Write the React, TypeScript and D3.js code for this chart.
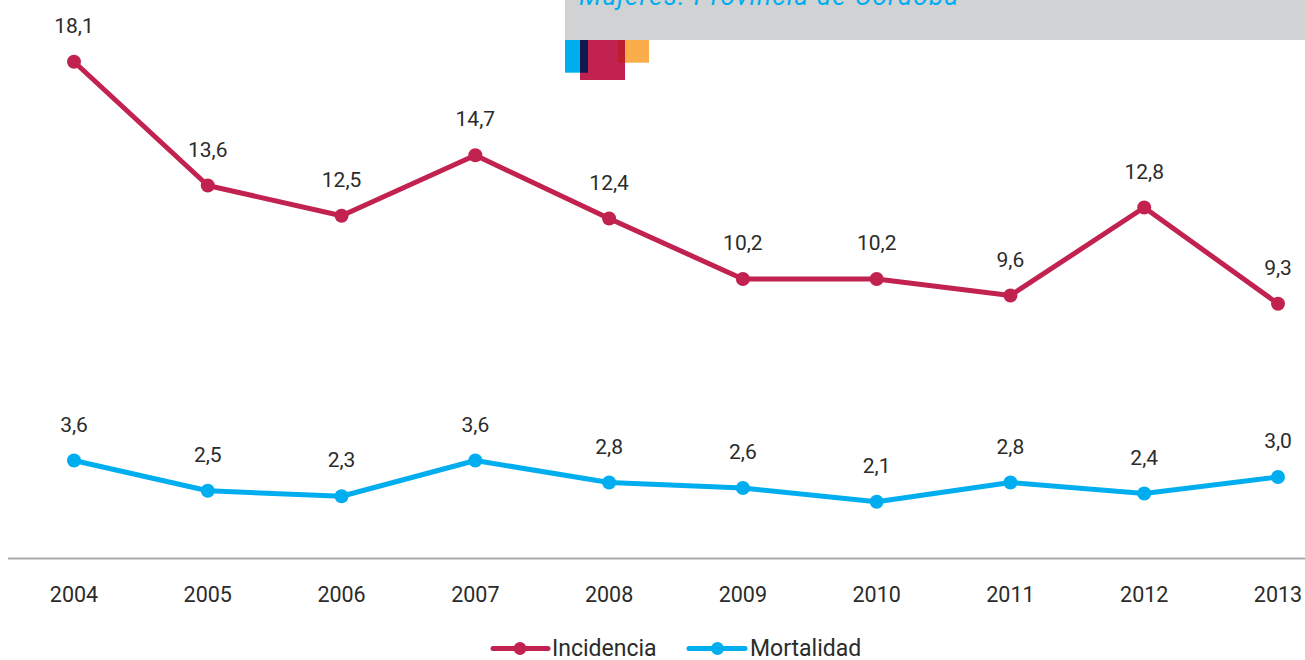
import React from "react";
import * as d3 from "d3";

const years = ["2004", "2005", "2006", "2007", "2008", "2009", "2010", "2011", "2012", "2013"];
const incidencia = [18.1, 13.6, 12.5, 14.7, 12.4, 10.2, 10.2, 9.6, 12.8, 9.3];
const mortalidad = [3.6, 2.5, 2.3, 3.6, 2.8, 2.6, 2.1, 2.8, 2.4, 3.0];
const seriesNames = ["Incidencia", "Mortalidad"];
const titleText = "Mujeres. Provincia de Córdoba";

const MAGENTA = "#c1224f";
const CYAN = "#00aeef";
const TEXT = "#2b2b2b";
const FONT = "Roboto, 'DejaVu Sans', sans-serif";

const W = 1305;
const H = 660;

export default function App() {
  const x = d3.scalePoint<string>().domain(years).range([74, 1278]);
  const y = d3.scaleLinear().domain([0, 20]).range([559.5, 9.5]);

  const line = d3
    .line<number>()
    .x((_, i) => x(years[i]) as number)
    .y((v) => y(v));

  const fmt = (v: number) => v.toFixed(1).replace(".", ",");

  const series = [
    { name: seriesNames[0], values: incidencia, color: MAGENTA },
    { name: seriesNames[1], values: mortalidad, color: CYAN },
  ];

  const legend = [
    { name: seriesNames[0], color: MAGENTA, x0: 493, x1: 548, cx: 520, tx: 552 },
    { name: seriesNames[1], color: CYAN, x0: 689, x1: 745, cx: 717.5, tx: 750 },
  ];

  return (
    <svg
      width={W}
      height={H}
      style={{ position: "absolute", left: 0, top: 0, background: "#fff" }}
      fontFamily={FONT}
    >
      {/* title box */}
      <rect x={565} y={0} width={W - 565} height={40} fill="#d1d2d4" />
      <text
        x={579}
        y={5}
        fontSize={26}
        fontStyle="italic"
        fill={CYAN}
        letterSpacing={1.3}
      >
        {titleText}
      </text>
      {/* decorative squares */}
      <rect x={580} y={40} width={45} height={40} fill={MAGENTA} />
      <rect x={565} y={40} width={15} height={32.7} fill={CYAN} />
      <rect x={580} y={40} width={8} height={32.7} fill="#0f1a4e" />
      <rect x={618} y={40} width={7} height={22.7} fill="#be1e2d" />
      <rect x={625} y={40} width={24} height={22.7} fill="#fbad4c" />

      {/* axis line */}
      <line x1={8} x2={W} y1={558.5} y2={558.5} stroke="#a7a9ac" strokeWidth={2} />

      {/* x labels */}
      {years.map((yr) => (
        <text
          key={yr}
          x={x(yr)}
          y={602}
          textAnchor="middle"
          fontSize={21.5}
          fill={TEXT}
        >
          {yr}
        </text>
      ))}

      {/* series */}
      {series.map((s) => (
        <g key={s.name}>
          <path d={line(s.values) || ""} fill="none" stroke={s.color} strokeWidth={5} strokeLinejoin="round" />
          {s.values.map((v, i) => (
            <circle key={i} cx={x(years[i])} cy={y(v)} r={7} fill={s.color} />
          ))}
          {s.values.map((v, i) => (
            <text
              key={"t" + i}
              x={x(years[i])}
              y={y(v) - 29}
              textAnchor="middle"
              fontSize={21}
              fill={TEXT}
            >
              {fmt(v)}
            </text>
          ))}
        </g>
      ))}

      {/* legend */}
      {legend.map((l) => (
        <g key={l.name}>
          <line x1={l.x0} x2={l.x1} y1={648.5} y2={648.5} stroke={l.color} strokeWidth={5} strokeLinecap="round" />
          <circle cx={l.cx} cy={648.5} r={6.5} fill={l.color} />
          <text x={l.tx} y={656} fontSize={23} fill={TEXT}>
            {l.name}
          </text>
        </g>
      ))}
    </svg>
  );
}
